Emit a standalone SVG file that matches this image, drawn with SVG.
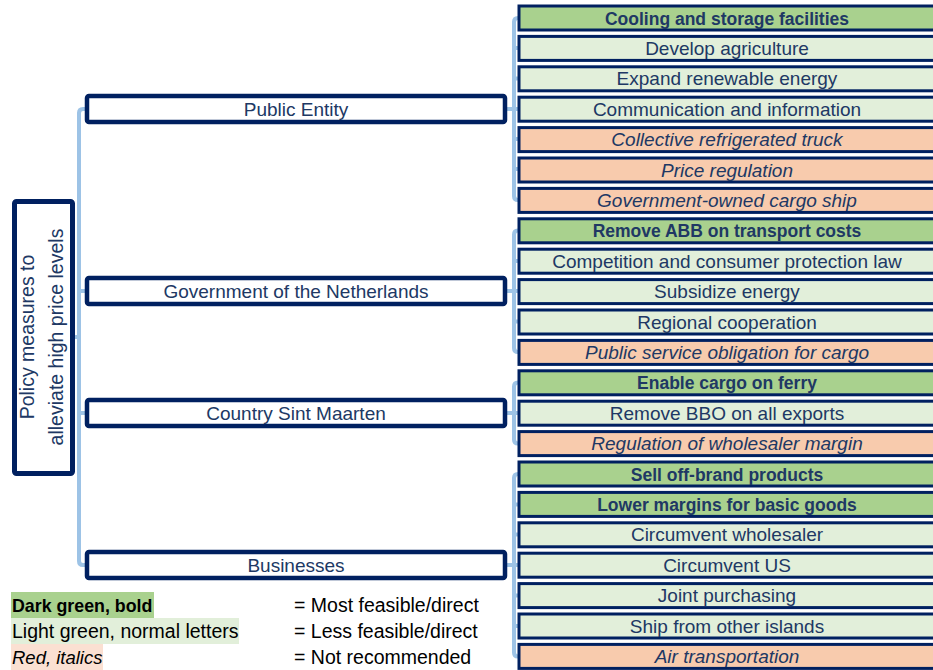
<svg xmlns="http://www.w3.org/2000/svg" width="933" height="670" viewBox="0 0 933 670">
<style>
text{font-family:"Liberation Sans",Arial,sans-serif;fill:#203864}
.c{fill:none;stroke:#9DC3E6;stroke-width:4;stroke-linejoin:round}
.mid rect{fill:#fff;stroke:#002060;stroke-width:4.5}
.mid text{font-size:19px;text-anchor:middle}
.leaf rect{stroke:#002060;stroke-width:3}
.leaf text{font-size:19px;text-anchor:middle}
.dg rect{fill:#A9D18E}
.dg text{font-weight:bold;font-size:17.5px}
.lg rect{fill:#E2EFDA}
.rd rect{fill:#F8CBAD}
.rd text{font-style:italic}
.leg text{fill:#000;font-size:19.5px}
</style>
<rect width="933" height="670" fill="#fff"/>
<g id="connectors">
<path class="c" d="M87,109 H83 Q79,109 79,113 V561 Q79,565 83,565 H87"/>
<path class="c" d="M73,337 H79 M79,291 H87 M79,413 H87"/>
<path class="c" d="M519,18 H518 Q514,18 514,22 V196 Q514,200 518,200 H519 M505,109 H519 M514,48 H519 M514,78.5 H519 M514,139 H519 M514,169 H519"/>
<path class="c" d="M519,230.5 H518 Q514,230.5 514,234.5 V348 Q514,352 518,352 H519 M505,291 H519 M514,261 H519 M514,321.5 H519"/>
<path class="c" d="M519,382.5 H518 Q514,382.5 514,386.5 V439.5 Q514,443.5 518,443.5 H519 M505,413 H519"/>
<path class="c" d="M519,474 H518 Q514,474 514,478 V652.5 Q514,656.5 518,656.5 H519 M505,565 H519 M514,504.5 H519 M514,534.5 H519 M514,595.5 H519 M514,626 H519"/>
</g>
<g id="root">
<rect x="14.5" y="201.5" width="58" height="272" rx="2" fill="#fff" stroke="#002060" stroke-width="5"/>
<text transform="translate(34,337) rotate(-90)" text-anchor="middle" font-size="19.5">Policy measures to</text>
<text transform="translate(63,337) rotate(-90)" text-anchor="middle" font-size="19.5">alleviate high price levels</text>
</g>
<g id="public-entity" class="mid"><rect x="87" y="96" width="418" height="26" rx="2"/><text x="296" y="115.5">Public Entity</text></g>
<g id="government-nl" class="mid"><rect x="87" y="278" width="418" height="26" rx="2"/><text x="296" y="297.5">Government of the Netherlands</text></g>
<g id="sint-maarten" class="mid"><rect x="87" y="400" width="418" height="26" rx="2"/><text x="296" y="419.5">Country Sint Maarten</text></g>
<g id="businesses" class="mid"><rect x="87" y="552" width="418" height="26" rx="2"/><text x="296" y="571.5">Businesses</text></g>
<g id="l1" class="leaf dg"><rect x="519" y="6" width="420" height="24"/><text x="727" y="24.5">Cooling and storage facilities</text></g>
<g id="l2" class="leaf lg"><rect x="519" y="36.4" width="420" height="24"/><text x="727" y="54.9">Develop agriculture</text></g>
<g id="l3" class="leaf lg"><rect x="519" y="66.8" width="420" height="24"/><text x="727" y="85.3">Expand renewable energy</text></g>
<g id="l4" class="leaf lg"><rect x="519" y="97.2" width="420" height="24"/><text x="727" y="115.7">Communication and information</text></g>
<g id="l5" class="leaf rd"><rect x="519" y="127.6" width="420" height="24"/><text x="727" y="146.1">Collective refrigerated truck</text></g>
<g id="l6" class="leaf rd"><rect x="519" y="158" width="420" height="24"/><text x="727" y="176.5">Price regulation</text></g>
<g id="l7" class="leaf rd"><rect x="519" y="188.4" width="420" height="24"/><text x="727" y="206.9">Government-owned cargo ship</text></g>
<g id="l8" class="leaf dg"><rect x="519" y="218.8" width="420" height="24"/><text x="727" y="237.3">Remove ABB on transport costs</text></g>
<g id="l9" class="leaf lg"><rect x="519" y="249.2" width="420" height="24"/><text x="727" y="267.7">Competition and consumer protection law</text></g>
<g id="l10" class="leaf lg"><rect x="519" y="279.6" width="420" height="24"/><text x="727" y="298.1">Subsidize energy</text></g>
<g id="l11" class="leaf lg"><rect x="519" y="310" width="420" height="24"/><text x="727" y="328.5">Regional cooperation</text></g>
<g id="l12" class="leaf rd"><rect x="519" y="340.4" width="420" height="24"/><text x="727" y="358.9">Public service obligation for cargo</text></g>
<g id="l13" class="leaf dg"><rect x="519" y="370.8" width="420" height="24"/><text x="727" y="389.3">Enable cargo on ferry</text></g>
<g id="l14" class="leaf lg"><rect x="519" y="401.2" width="420" height="24"/><text x="727" y="419.7">Remove BBO on all exports</text></g>
<g id="l15" class="leaf rd"><rect x="519" y="431.6" width="420" height="24"/><text x="727" y="450.1">Regulation of wholesaler margin</text></g>
<g id="l16" class="leaf dg"><rect x="519" y="462" width="420" height="24"/><text x="727" y="480.5">Sell off-brand products</text></g>
<g id="l17" class="leaf dg"><rect x="519" y="492.4" width="420" height="24"/><text x="727" y="510.9">Lower margins for basic goods</text></g>
<g id="l18" class="leaf lg"><rect x="519" y="522.8" width="420" height="24"/><text x="727" y="541.3">Circumvent wholesaler</text></g>
<g id="l19" class="leaf lg"><rect x="519" y="553.2" width="420" height="24"/><text x="727" y="571.7">Circumvent US</text></g>
<g id="l20" class="leaf lg"><rect x="519" y="583.6" width="420" height="24"/><text x="727" y="602.1">Joint purchasing</text></g>
<g id="l21" class="leaf lg"><rect x="519" y="614" width="420" height="24"/><text x="727" y="632.5">Ship from other islands</text></g>
<g id="l22" class="leaf rd"><rect x="519" y="644.4" width="420" height="24"/><text x="727" y="662.9">Air transportation</text></g>
<g id="legend" class="leg">
<rect x="11" y="592" width="143" height="26" fill="#A9D18E"/>
<rect x="11" y="618" width="228" height="26" fill="#E2EFDA"/>
<rect x="11" y="644" width="92" height="26" fill="#FBE0D2"/>
<text x="12" y="612" font-weight="bold" style="font-size:17.8px">Dark green, bold</text>
<text x="12" y="638">Light green, normal letters</text>
<text x="12" y="664" font-style="italic" style="font-size:18.5px">Red, italics</text>
<text x="294" y="612">= Most feasible/direct</text>
<text x="294" y="638">= Less feasible/direct</text>
<text x="294" y="664">= Not recommended</text>
</g>
</svg>
